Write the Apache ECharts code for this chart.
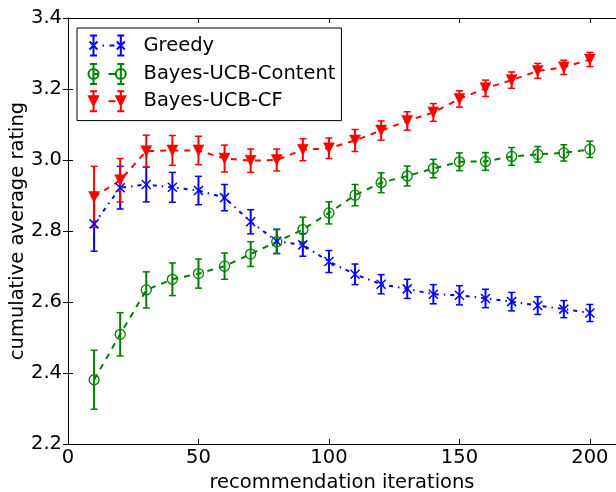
<!DOCTYPE html>
<html>
<head>
<meta charset="utf-8">
<script src="https://cdn.jsdelivr.net/npm/echarts@6/dist/echarts.min.js"></script>
<style>
html,body{margin:0;padding:0;background:#fff;}
#main{width:616px;height:492px;}
</style>
</head>
<body>
<div id="main"></div>
<script>
// data
var iterations = [10, 20, 30, 40, 50, 60, 70, 80, 90, 100, 110, 120, 130, 140, 150, 160, 170, 180, 190, 200];

var greedyMean = [2.820, 2.922, 2.931, 2.923, 2.914, 2.894, 2.826, 2.771, 2.761, 2.714, 2.678, 2.650, 2.637, 2.622, 2.619, 2.610, 2.601, 2.590, 2.580, 2.569];
var greedyErr  = [0.077, 0.060, 0.049, 0.042, 0.040, 0.037, 0.034, 0.034, 0.032, 0.031, 0.029, 0.027, 0.027, 0.027, 0.027, 0.026, 0.026, 0.025, 0.024, 0.024];

var contentMean = [2.381, 2.509, 2.634, 2.664, 2.680, 2.701, 2.735, 2.770, 2.804, 2.851, 2.901, 2.936, 2.955, 2.976, 2.995, 2.996, 3.010, 3.016, 3.020, 3.030];
var contentErr  = [0.083, 0.061, 0.051, 0.046, 0.041, 0.037, 0.035, 0.034, 0.035, 0.031, 0.030, 0.028, 0.028, 0.026, 0.025, 0.025, 0.025, 0.022, 0.023, 0.023];

var cfMean = [2.896, 2.943, 3.025, 3.027, 3.027, 3.004, 2.998, 3.000, 3.029, 3.033, 3.055, 3.083, 3.110, 3.134, 3.172, 3.202, 3.225, 3.251, 3.261, 3.283];
var cfErr  = [0.086, 0.061, 0.045, 0.042, 0.040, 0.038, 0.033, 0.031, 0.031, 0.029, 0.031, 0.027, 0.026, 0.025, 0.023, 0.023, 0.023, 0.021, 0.020, 0.020];

var seriesNames = ['Greedy', 'Bayes-UCB-Content', 'Bayes-UCB-CF'];
var xTicks = [0, 50, 100, 150, 200];
var yTicks = [2.2, 2.4, 2.6, 2.8, 3.0, 3.2, 3.4];

var FONT = 'DejaVu Sans';
var BLUE = '#0000ff', GREEN = '#008000', RED = '#ff0000';

function points(mean) {
  var out = [];
  for (var i = 0; i < iterations.length; i++) out.push([iterations[i], mean[i]]);
  return out;
}
function bars(mean, err) {
  var out = [];
  for (var i = 0; i < iterations.length; i++) out.push([iterations[i], mean[i] - err[i], mean[i] + err[i]]);
  return out;
}

// vertical error bar with caps
function errorBar(params, api) {
  var x = api.value(0);
  var lo = api.coord([x, api.value(1)]);
  var hi = api.coord([x, api.value(2)]);
  var c = api.visual('color');
  var cap = 3.5;
  return {
    type: 'group',
    children: [
      {type: 'line', shape: {x1: hi[0], y1: hi[1], x2: lo[0], y2: lo[1]}, style: {stroke: c, lineWidth: 2}},
      {type: 'line', shape: {x1: hi[0] - cap, y1: hi[1], x2: hi[0] + cap, y2: hi[1]}, style: {stroke: c, lineWidth: 1.5}},
      {type: 'line', shape: {x1: lo[0] - cap, y1: lo[1], x2: lo[0] + cap, y2: lo[1]}, style: {stroke: c, lineWidth: 1.5}}
    ]
  };
}

function errSeries(name, mean, err, color) {
  return {
    name: name + ' err',
    type: 'custom',
    renderItem: errorBar,
    itemStyle: {color: color},
    encode: {x: 0, y: [1, 2]},
    data: bars(mean, err),
    silent: true
  };
}

// legend icons: two markers with error bars and a piece of the line between
var EB = 'M5 1L5 21M1.5 1L8.5 1M1.5 21L8.5 21M32.3 1L32.3 21M28.8 1L35.8 1M28.8 21L35.8 21';
var FRAME = 'M0 0M50 22';
var iconGreedy = 'path://' + FRAME + EB + 'M1 7L9 15M9 7L1 15M28.3 7L36.3 15M36.3 7L28.3 15M14 11L15.5 11M21 11L26 11';
var iconContent = 'path://' + FRAME + EB +
  'M10 11A5 5 0 1 1 0 11A5 5 0 1 1 10 11ZM37.3 11A5 5 0 1 1 27.3 11A5 5 0 1 1 37.3 11ZM5 11L9 11M20 11L27 11';
var iconCF = 'path://' + FRAME + EB + 'M0.5 6L9.5 6L5 15ZM27.8 6L36.8 6L32.3 15ZM20 11L27 11';

var chart = echarts.init(document.getElementById('main'));

var option = {
  animation: false,
  backgroundColor: '#fff',
  textStyle: {fontFamily: FONT},
  grid: {left: 68, right: 0, top: 18, bottom: 48, outerBoundsMode: 'none', containLabel: false},
  legend: {
    orient: 'vertical',
    left: 77,
    top: 28,
    padding: [4, 6, 7.4, 9],
    itemWidth: 50,
    itemHeight: 22,
    itemGap: 1.6,
    borderColor: '#000',
    borderWidth: 1,
    borderRadius: 0,
    backgroundColor: '#fff',
    selectedMode: false,
    textStyle: {fontFamily: FONT, fontSize: 19.5, lineHeight: 22, color: '#000'},
    data: [
      {name: seriesNames[0], icon: iconGreedy, itemStyle: {color: 'none', borderColor: BLUE, borderWidth: 2}},
      {name: seriesNames[1], icon: iconContent, itemStyle: {color: 'none', borderColor: GREEN, borderWidth: 2}},
      {name: seriesNames[2], icon: iconCF, itemStyle: {color: RED, borderColor: RED, borderWidth: 2}}
    ]
  },
  xAxis: [
    {
      type: 'value', min: 0, max: 210, interval: 50,
      name: 'recommendation iterations', nameLocation: 'middle', nameGap: 22,
      nameTextStyle: {fontFamily: FONT, fontSize: 19.5, color: '#000'},
      axisLine: {show: true, lineStyle: {color: '#000', width: 1}},
      axisTick: {show: true, inside: true, length: 5, lineStyle: {color: '#000'}},
      axisLabel: {
        fontFamily: FONT, fontSize: 19.5, color: '#000', margin: 4,
        showMaxLabel: false,
        formatter: function (v) { return xTicks.indexOf(v) >= 0 ? String(v) : ''; }
      },
      splitLine: {show: false}
    },
    {
      type: 'value', min: 0, max: 210, interval: 50, position: 'top',
      axisLine: {show: true, lineStyle: {color: '#000', width: 1}},
      axisTick: {show: true, inside: true, length: 5, lineStyle: {color: '#000'}},
      axisLabel: {show: false},
      splitLine: {show: false}
    }
  ],
  yAxis: [
    {
      type: 'value', min: 2.2, max: 3.4, interval: 0.2,
      name: 'cumulative average rating', nameLocation: 'middle', nameGap: 40,
      nameMoveOverlap: false,
      nameTextStyle: {fontFamily: FONT, fontSize: 19.5, color: '#000'},
      axisLine: {show: true, lineStyle: {color: '#000', width: 1}},
      axisTick: {show: true, inside: true, length: 5, lineStyle: {color: '#000'}},
      axisLabel: {
        fontFamily: FONT, fontSize: 19.5, color: '#000', margin: 6,
        formatter: function (v) { return v.toFixed(1); }
      },
      splitLine: {show: false}
    },
    {
      type: 'value', min: 2.2, max: 3.4, interval: 0.2, position: 'right',
      axisLine: {show: true, lineStyle: {color: '#000', width: 1}},
      axisTick: {show: true, inside: true, length: 5, lineStyle: {color: '#000'}},
      axisLabel: {show: false},
      splitLine: {show: false}
    }
  ],
  series: [
    errSeries(seriesNames[0], greedyMean, greedyErr, BLUE),
    {
      name: seriesNames[0],
      type: 'line',
      data: points(greedyMean),
      symbol: 'path://M0 0L10 10M10 0L0 10',
      symbolSize: 9,
      itemStyle: {color: 'none', borderColor: BLUE, borderWidth: 1.5},
      lineStyle: {color: BLUE, width: 2, type: [4, 5, 1.5, 5]},
      silent: true
    },
    errSeries(seriesNames[1], contentMean, contentErr, GREEN),
    {
      name: seriesNames[1],
      type: 'line',
      data: points(contentMean),
      symbol: 'circle',
      symbolSize: 10,
      itemStyle: {color: 'none', borderColor: GREEN, borderWidth: 1.3},
      lineStyle: {color: GREEN, width: 2, type: [6, 6]},
      silent: true
    },
    errSeries(seriesNames[2], cfMean, cfErr, RED),
    {
      name: seriesNames[2],
      type: 'line',
      data: points(cfMean),
      symbol: 'triangle',
      symbolRotate: 180,
      symbolSize: 11,
      itemStyle: {color: RED, borderColor: RED, borderWidth: 0.5},
      lineStyle: {color: RED, width: 2, type: [6, 6]},
      silent: true
    }
  ]
};

chart.setOption(option);
</script>
</body>
</html>
